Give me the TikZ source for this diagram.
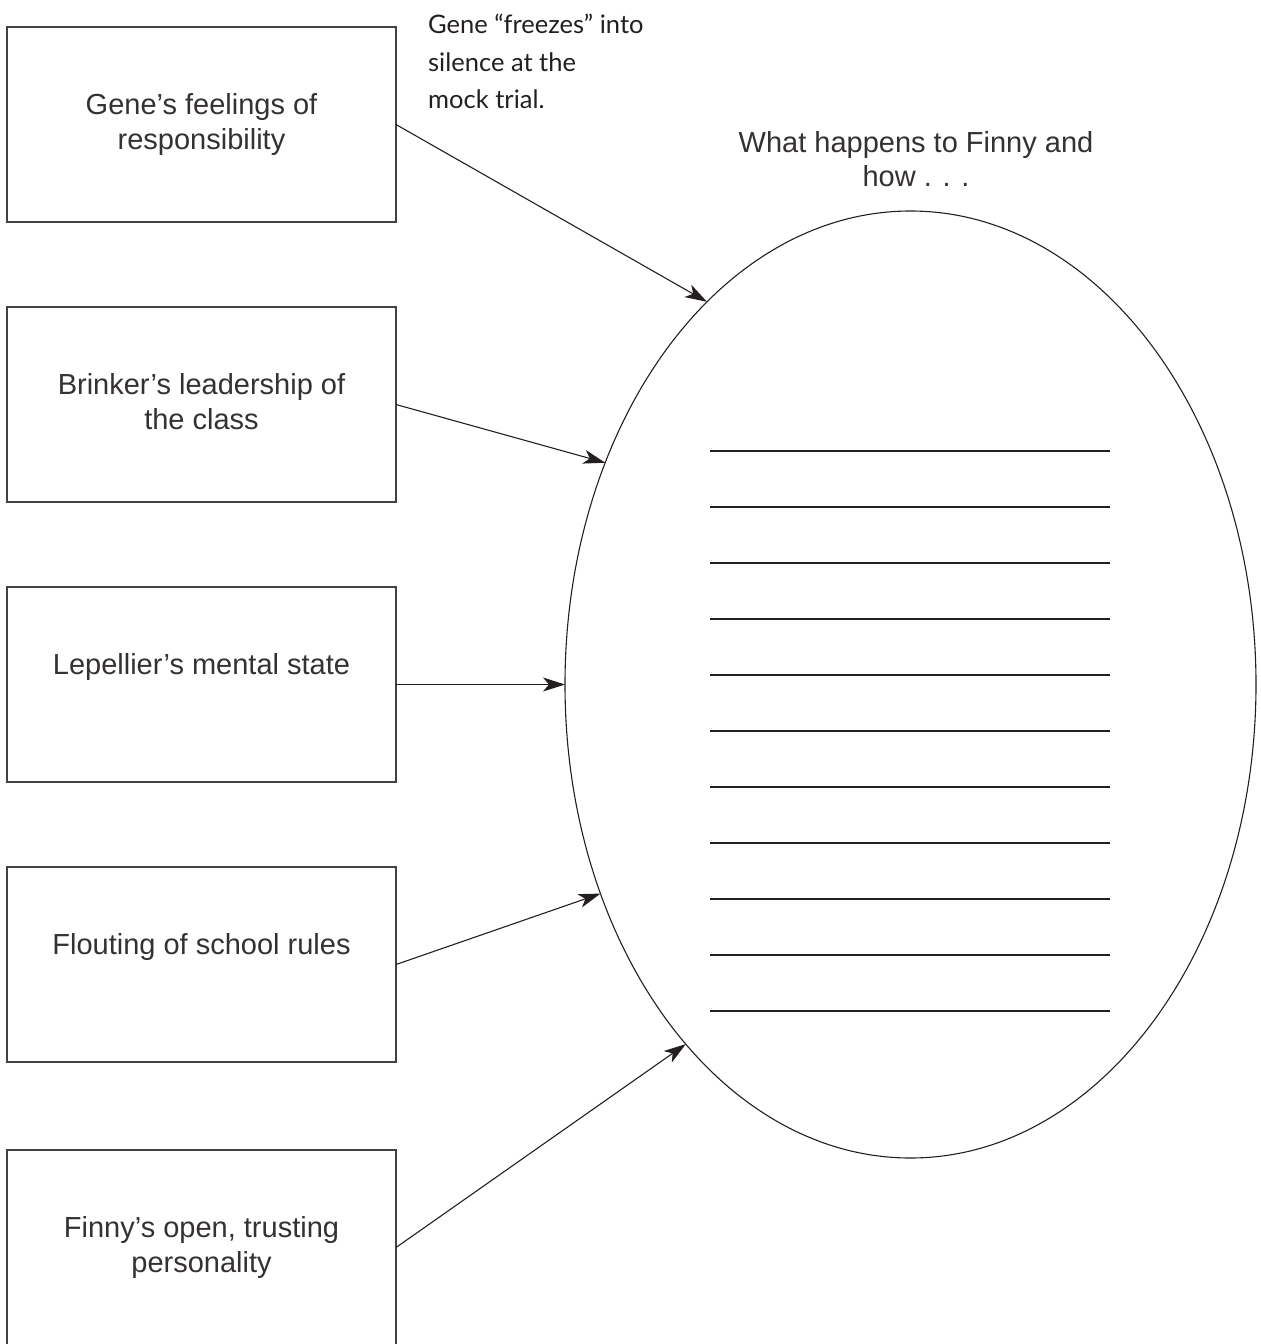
\documentclass[tikz,border=0pt]{standalone}
\usepackage{fontspec}
\setmainfont{Liberation Sans}
\newfontfamily\handfont{Lato}
\usetikzlibrary{shapes.geometric,arrows.meta}
\definecolor{ink}{HTML}{231F20}
\begin{document}
\begin{tikzpicture}[x=1pt,y=-1pt,
  box/.style={draw=ink!85, line width=1.3pt, minimum width=389pt, minimum height=195pt, inner sep=0pt, outer sep=0pt},
  boxtext/.style={anchor=north, align=center, inner sep=0pt, text=ink!92, font=\fontsize{29}{35.5}\selectfont},
  conn/.style={draw=ink, line width=1.1pt, -{Stealth[length=22pt,width=14pt,inset=6pt]}},
  rule/.style={draw=ink, line width=1.3pt},
  note/.style={anchor=north west, align=left, inner sep=0pt, text=ink, font=\handfont\fontsize{25.5}{37.5}\selectfont}]
\useasboundingbox (0,0) rectangle (1261,1344);

% boxes
\node[box] (b1) at (201.5,124.5) {};
\node[box] (b2) at (201.5,404.5) {};
\node[box] (b3) at (201.5,684.5) {};
\node[box] (b4) at (201.5,964.5) {};
\node[box] (b5) at (201.5,1247.5) {};

\node[boxtext] (t1) at (201.5,93) {Gene’s feelings of\\responsibility};
\node[boxtext] (t2) at (201.5,373) {Brinker’s leadership of\\the class};
\node[boxtext] (t3) at (201.5,653) {Lepellier’s mental state};
\node[boxtext] (t4) at (201.5,933) {Flouting of school rules};
\node[boxtext] (t5) at (201.5,1216) {Finny’s open, trusting\\personality};

% ellipse
\node[draw=ink, line width=1.1pt, ellipse, minimum width=691pt, minimum height=947pt, inner sep=0pt, outer sep=0pt] (goal) at (910.5,684.5) {};

\node[anchor=north, align=center, inner sep=0pt, text=ink!92, font=\fontsize{29}{34}\selectfont] (title) at (916,131) {What happens to Finny and\\how . . .};

\node[note] (note) at (428,14) {Gene “freezes” into\\silence at the\\mock trial.};

% writing lines
\foreach \k in {0,...,10} {
  \draw[rule] (710,451+56*\k) -- (1110,451+56*\k);
}

% connectors
\draw[conn] (b1.east) -- (goal.118);
\draw[conn] (b2.east) -- (goal.144.4);
\draw[conn] (b3.east) -- (goal.180);
\draw[conn] (b4.east) -- (goal.214.2);
\draw[conn] (b5.east) -- (goal.238);
\end{tikzpicture}
\end{document}
